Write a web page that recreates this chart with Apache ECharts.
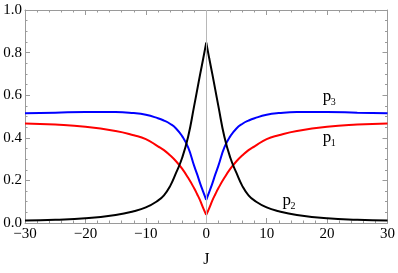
<!DOCTYPE html>
<html><head><meta charset="utf-8">
<script src="https://cdn.jsdelivr.net/npm/echarts@6/dist/echarts.min.js"></script>
<style>html,body{margin:0;padding:0;background:#fff}#c{width:398px;height:273px}</style>
</head><body><div id="c"></div>
<script>
var J  = [-30,-25,-20,-15,-12,-10,-8,-7,-6,-5,-4,-3,-2,-1.5,-1,-0.5,0,0.5,1,1.5,2,3,4,5,6,7,8,10,12,15,20,25,30];
var p1 = [0.467,0.462,0.452,0.432,0.412,0.394,0.360,0.342,0.318,0.290,0.255,0.212,0.163,0.135,0.105,0.070,0.038,0.070,0.105,0.135,0.163,0.212,0.255,0.290,0.318,0.342,0.360,0.394,0.412,0.432,0.452,0.462,0.467];
var p2 = [0.012,0.015,0.022,0.038,0.055,0.073,0.105,0.130,0.172,0.235,0.305,0.405,0.550,0.625,0.700,0.772,0.847,0.772,0.700,0.625,0.550,0.405,0.305,0.235,0.172,0.130,0.105,0.073,0.055,0.038,0.022,0.015,0.012];
var p3 = [0.515,0.518,0.521,0.521,0.516,0.508,0.492,0.481,0.466,0.444,0.408,0.355,0.268,0.228,0.185,0.146,0.109,0.146,0.185,0.228,0.268,0.355,0.408,0.444,0.466,0.481,0.492,0.508,0.516,0.521,0.521,0.518,0.515];
var xTicks = {min:-30, max:30, interval:10};
var yTicks = {min:0, max:1, interval:0.2};
var labels = [
  {name:'p', sub:'3', x:19.3, y:0.595},
  {name:'p', sub:'1', x:19.3, y:0.40},
  {name:'p', sub:'2', x:12.6, y:0.105}
];

function half(arr, left){
  var out=[];
  for(var i=0;i<J.length;i++){
    if(left ? J[i]<=0 : J[i]>=0) out.push([J[i], arr[i]]);
  }
  return out;
}
var chart = echarts.init(document.getElementById('c'), null, {renderer:'canvas'});
var frameColor = '#9a9a9a';
var font = '"Liberation Serif", "DejaVu Serif", serif';
function xAx(pos, showLab){
  return {type:'value', position:pos, min:xTicks.min, max:xTicks.max, interval:xTicks.interval,
    axisLine:{show:true, onZero:false, lineStyle:{color:frameColor, width:1}},
    axisTick:{show:true, inside:true, length:5, lineStyle:{color:frameColor}},
    minorTick:{show:true, splitNumber:5, length:2.5, lineStyle:{color:frameColor}},
    splitLine:{show:false},
    axisLabel:{show:showLab, color:'#000', fontFamily:font, fontSize:15, margin:4,
      formatter:function(v){return v<0?'\u2212'+(-v):String(v);}},
    name: showLab?'J':'', nameLocation:'middle', nameGap:29,
    nameTextStyle:{color:'#000', fontFamily:font, fontSize:16}
  };
}
function yAx(pos, showLab){
  return {type:'value', position:pos, min:yTicks.min, max:yTicks.max, interval:yTicks.interval,
    axisLine:{show:true, onZero:false, lineStyle:{color:frameColor, width:1}},
    axisTick:{show:true, inside:true, length:5, lineStyle:{color:frameColor}},
    minorTick:{show:true, splitNumber:4, length:2.5, lineStyle:{color:frameColor}},
    splitLine:{show:false},
    axisLabel:{show:showLab, color:'#000', fontFamily:font, fontSize:15, margin:3,
      formatter:function(v){return v.toFixed(1);}}
  };
}
function line(data, color){
  return {type:'line', data:data, xAxisIndex:0, yAxisIndex:0, showSymbol:false, symbol:'none',
    smooth:0.5, lineStyle:{color:color, width:2}, z:3, silent:true, animation:false};
}
var series = [
  {type:'line', data:[], xAxisIndex:0, yAxisIndex:0, z:1, silent:true,
   markLine:{silent:true, symbol:['none','none'], label:{show:false}, animation:false,
     lineStyle:{color:'#b8b8b8', width:1, type:'solid'}, data:[{xAxis:0}]}},
  line(half(p3,true),'#0000ff'), line(half(p3,false),'#0000ff'),
  line(half(p1,true),'#ff0000'), line(half(p1,false),'#ff0000'),
  line(half(p2,true),'#000000'), line(half(p2,false),'#000000')
];
chart.setOption({
  animation:false,
  backgroundColor:'#fff',
  grid:{left:25, right:9, top:10, bottom:40, containLabel:false},
  xAxis:[xAx('bottom',true), xAx('top',false)],
  yAxis:[yAx('left',true), yAx('right',false)],
  series:series
});
var g=[];
labels.forEach(function(l){
  var p = chart.convertToPixel({xAxisIndex:0, yAxisIndex:0}, [l.x, l.y]);
  g.push({type:'text', x:p[0], y:p[1], style:{text:l.name, font:'17px '+font, fill:'#000', textAlign:'left', textVerticalAlign:'middle'}});
  g.push({type:'text', x:p[0]+8, y:p[1]+6, style:{text:l.sub, font:'10px '+font, fill:'#000', textAlign:'left', textVerticalAlign:'middle'}});
});
chart.setOption({graphic:g});
</script></body></html>
